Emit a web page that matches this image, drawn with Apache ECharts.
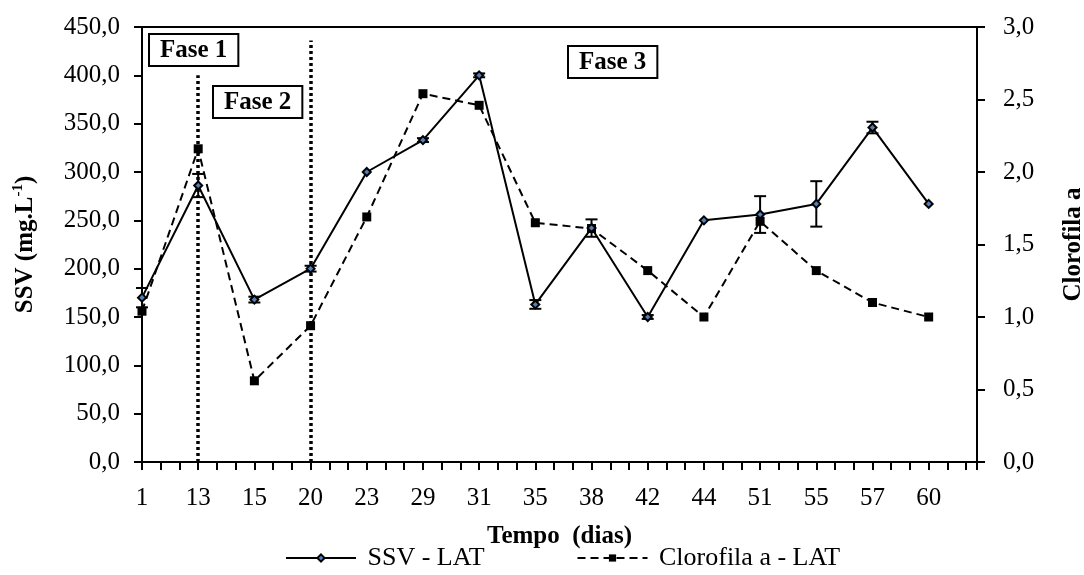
<!DOCTYPE html>
<html>
<head>
<meta charset="utf-8">
<script src="https://cdn.jsdelivr.net/npm/echarts@6/dist/echarts.min.js"></script>
<style>
  html, body { margin: 0; padding: 0; background: #fff; }
  #chart { width: 1084px; height: 575px; }
</style>
</head>
<body>
<div id="chart"></div>
<script>
// ======================
// DATA
// ======================

const days = ['1', '13', '15', '20', '23', '29', '31', '35', '38', '42', '44', '51', '55', '57', '60'];
const ssvValues = [170, 286, 168, 200, 300, 333, 400, 163, 242, 150, 250, 256, 267, 346, 267];
const ssvErrors = [10, 12, 3, 3, 0, 2, 2, 4.5, 9, 2, 0, 19, 23.5, 6, 0];
const clorofilaValues = [1.04, 2.16, 0.56, 0.94, 1.69, 2.54, 2.46, 1.65, 1.61, 1.32, 1.0, 1.66, 1.32, 1.1, 1.0];

// phase boundaries: index on the day axis, top of the dotted line (SSV units)
const phaseLines = [[1, 400], [3, 436]];

const leftTicks = { min: 0, max: 450, interval: 50 };
const rightTicks = { min: 0, max: 3, interval: 0.5 };

// ======================
// STYLE
// ======================

const FONT = 'Liberation Serif, Times New Roman, serif';
const fmtComma = (v, d) => v.toFixed(d).replace('.', ',');

const chart = echarts.init(document.getElementById('chart'), null, { renderer: 'canvas' });

const axisLine = { show: true, lineStyle: { color: '#000', width: 2 } };
const tickStyle = { lineStyle: { color: '#000', width: 2 } };

function renderErrorBar(params, api) {
    const x = api.value(0);
    const lo = api.coord([x, api.value(1)]);
    const hi = api.coord([x, api.value(2)]);
    if (Math.abs(hi[1] - lo[1]) < 1) return null;
    const half = 6;
    const style = { stroke: '#000', lineWidth: 2 };
    return {
        type: 'group',
        children: [
            { type: 'line', shape: { x1: lo[0], y1: lo[1], x2: hi[0], y2: hi[1] }, style },
            { type: 'line', shape: { x1: lo[0] - half, y1: lo[1], x2: lo[0] + half, y2: lo[1] }, style },
            { type: 'line', shape: { x1: hi[0] - half, y1: hi[1], x2: hi[0] + half, y2: hi[1] }, style },
        ],
    };
}

function phaseBox(text, left, top) {
    return {
        type: 'text',
        left, top,
        z: 100,
        style: {
            text,
            font: 'bold 25px ' + FONT,
            fill: '#000',
            backgroundColor: '#fff',
            borderColor: '#000',
            borderWidth: 2,
            padding: [3, 10, 2, 10],
        },
    };
}

const option = {
    animation: false,
    backgroundColor: '#fff',
    textStyle: { fontFamily: FONT, color: '#000' },
    grid: {
        left: 142, right: 107, top: 27, bottom: 113,
        outerBoundsMode: 'none',
        containLabel: false,
        show: true, borderColor: '#000', borderWidth: 2,
    },
    legend: {
        left: 280,
        top: 540,
        itemWidth: 70,
        itemHeight: 9,
        itemGap: 92,
        formatter: name => ' ' + name,
        textStyle: { fontFamily: FONT, fontSize: 26, color: '#000' },
        data: ['SSV - LAT', 'Clorofila a - LAT'],
    },
    xAxis: {
        type: 'value',
        min: 0,
        max: 14.86,
        interval: 1,
        name: 'Tempo  (dias)',
        nameLocation: 'middle',
        nameGap: 62,
        nameTextStyle: { fontFamily: FONT, fontSize: 25, fontWeight: 'bold', color: '#000' },
        axisLine,
        axisTick: { show: true, inside: false, length: 8, ...tickStyle },
        minorTick: { show: true, splitNumber: 3, length: 8, ...tickStyle },
        splitLine: { show: false },
        axisLabel: {
            fontFamily: FONT, fontSize: 25, color: '#000', margin: 24,
            showMaxLabel: false,
            formatter: v => (Number.isInteger(v) && days[v] !== undefined ? days[v] : ''),
        },
    },
    yAxis: [
        {
            type: 'value',
            position: 'left',
            ...leftTicks,
            name: '{a|SSV (mg.L}{s|-1}{a|)}',
            nameLocation: 'middle',
            nameRotate: 90,
            nameGap: 101,
            nameTextStyle: {
                rich: {
                    a: { fontFamily: FONT, fontSize: 25, fontWeight: 'bold', color: '#000', lineHeight: 30 },
                    s: { fontFamily: FONT, fontSize: 15, fontWeight: 'bold', color: '#000', verticalAlign: 'top', lineHeight: 30 },
                },
            },
            axisLine,
            axisTick: { show: true, inside: false, length: 8, ...tickStyle },
            splitLine: { show: false },
            axisLabel: { fontFamily: FONT, fontSize: 25, color: '#000', margin: 22, formatter: v => fmtComma(v, 1) },
        },
        {
            type: 'value',
            position: 'right',
            ...rightTicks,
            name: 'Clorofila a',
            nameLocation: 'middle',
            nameRotate: 90,
            nameGap: 84,
            nameTextStyle: { fontFamily: FONT, fontSize: 25, fontWeight: 'bold', color: '#000' },
            axisLine,
            axisTick: { show: true, inside: false, length: 8, ...tickStyle },
            splitLine: { show: false },
            axisLabel: { fontFamily: FONT, fontSize: 25, color: '#000', margin: 26, formatter: v => fmtComma(v, 1) },
        },
    ],
    series: [
        {
            name: 'SSV error',
            type: 'custom',
            yAxisIndex: 0,
            z: 3,
            silent: true,
            encode: { x: 0, y: [1, 2] },
            renderItem: renderErrorBar,
            data: ssvValues.map((v, i) => [i, v - ssvErrors[i], v + ssvErrors[i]]),
        },
        {
            name: 'Clorofila a - LAT',
            type: 'line',
            yAxisIndex: 1,
            z: 4,
            symbol: 'rect',
            symbolSize: 9,
            itemStyle: { color: '#000' },
            lineStyle: { color: '#000', width: 2, type: [8, 5] },
            data: clorofilaValues.map((v, i) => [i, v]),
        },
        {
            name: 'SSV - LAT',
            type: 'line',
            yAxisIndex: 0,
            z: 5,
            symbol: 'diamond',
            symbolSize: 8,
            itemStyle: { color: '#4f81bd', borderColor: '#000', borderWidth: 2 },
            lineStyle: { color: '#000', width: 2 },
            data: ssvValues.map((v, i) => [i, v]),
            markLine: {
                silent: true,
                symbol: 'none',
                label: { show: false },
                lineStyle: { color: '#000', width: 3.5, type: [3, 3] },
                data: phaseLines.map(([x, top]) => [{ coord: [x, 0] }, { coord: [x, top] }]),
            },
        },
    ],
    graphic: [
        phaseBox('Fase 1', 148, 33),
        phaseBox('Fase 2', 212, 85),
        phaseBox('Fase 3', 567, 45),
    ],
};

chart.setOption(option);
</script>
</body>
</html>
